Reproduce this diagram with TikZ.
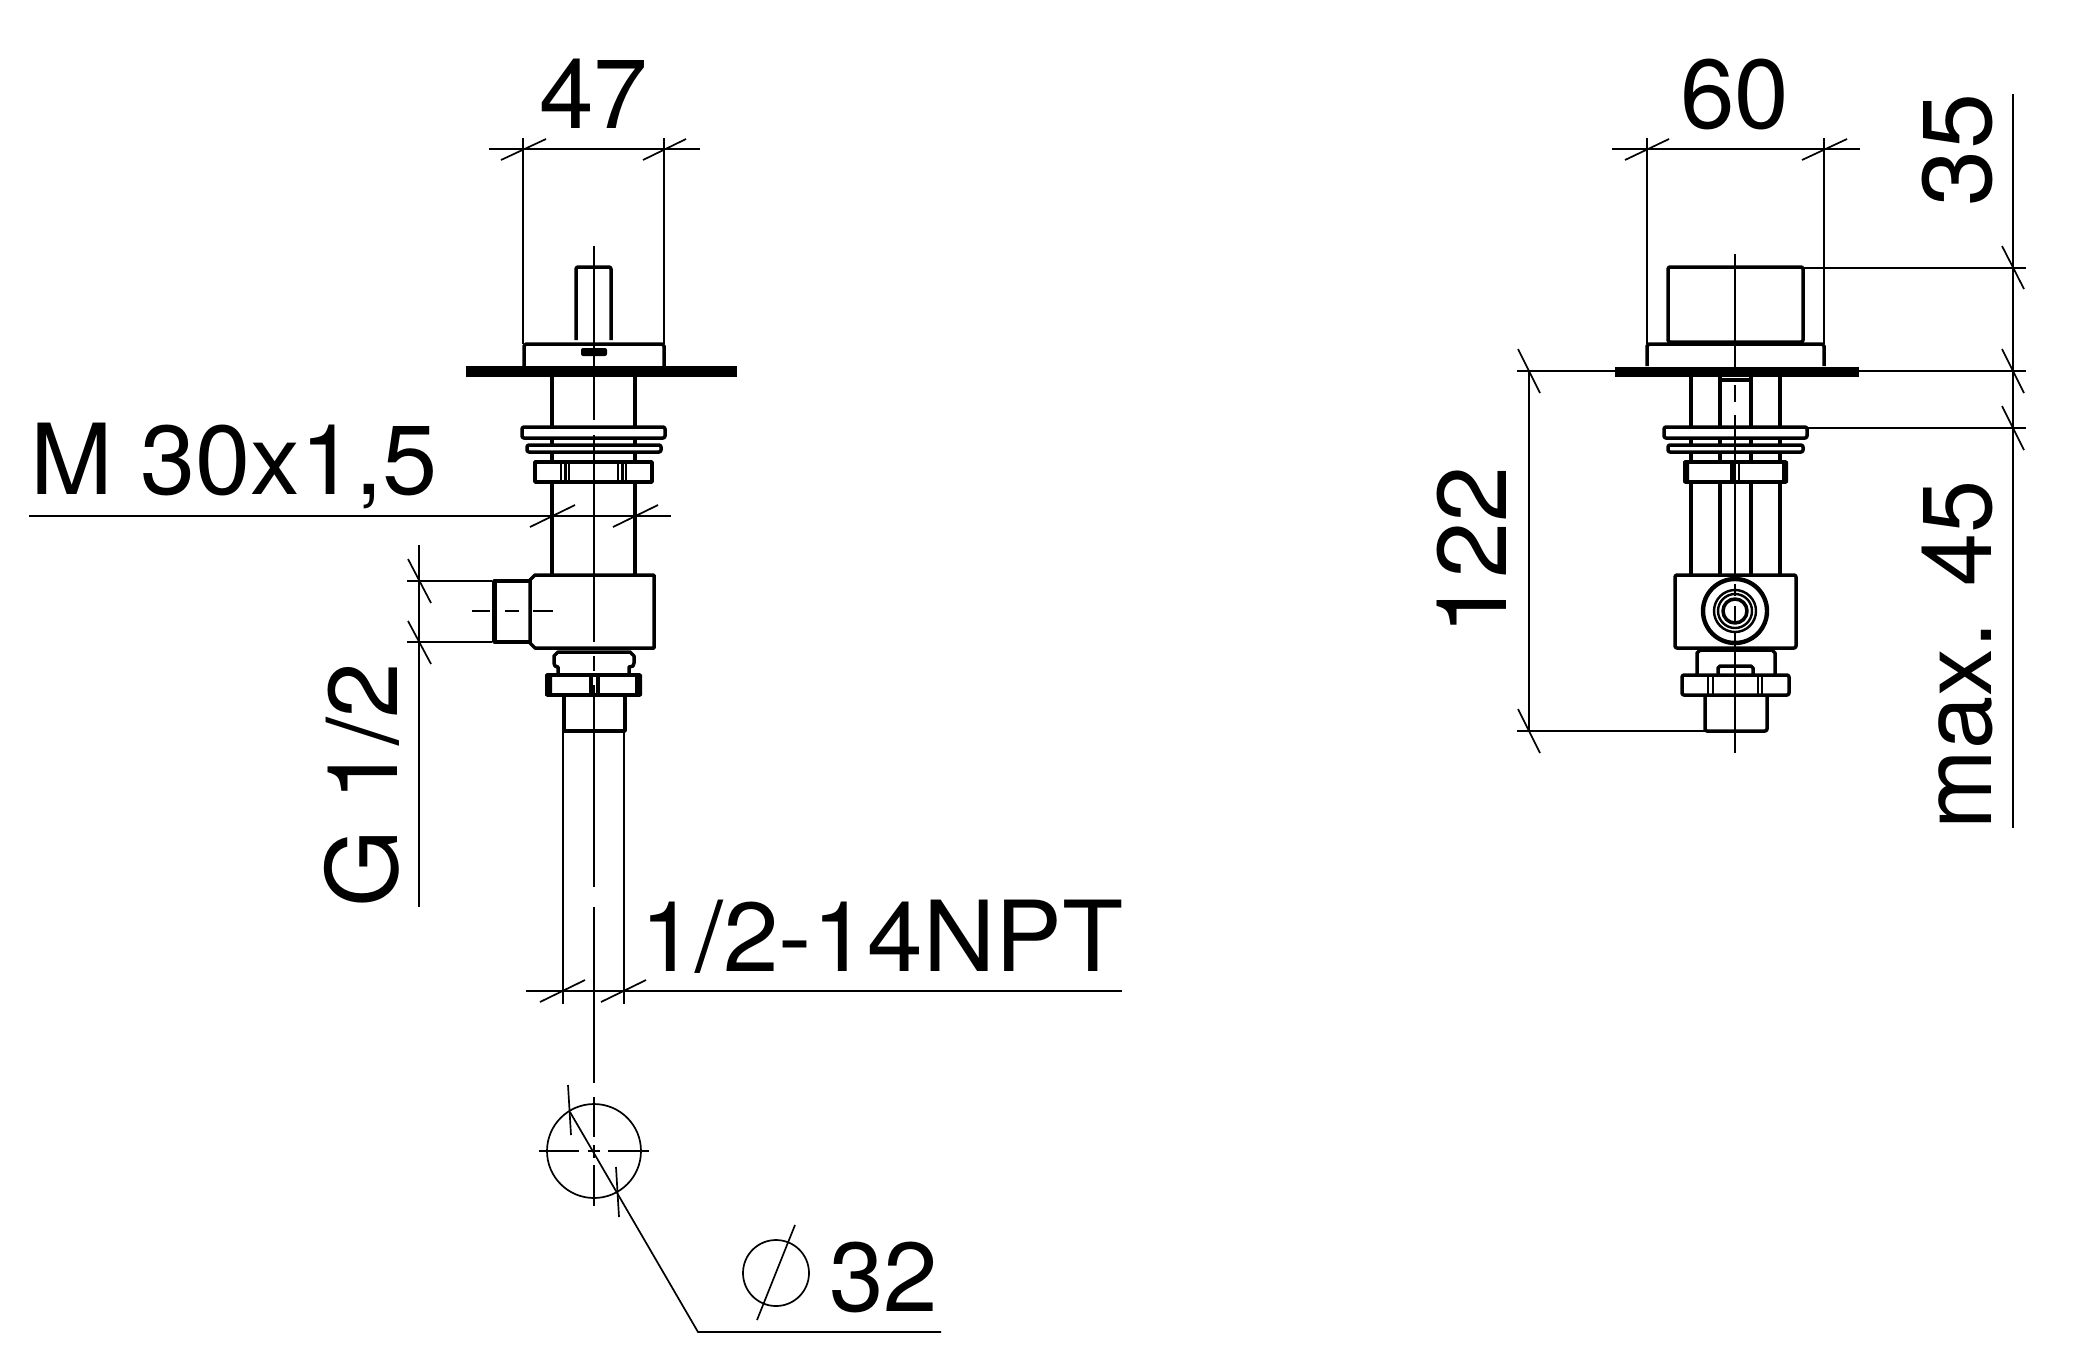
\documentclass[tikz,border=0pt]{standalone}
\usepackage{fontspec}
\setmainfont{TeX Gyre Heros}
\tikzset{part/.style={line width=1.75pt, line join=round},
	partw/.style={part, fill=white},
	thinline/.style={line width=.85pt},
	axisline/.style={line width=.85pt},
	dimtext/.style={inner sep=0pt, outer sep=0pt, anchor=base west, font=\fontsize{49}{49}\selectfont}}

\begin{document}
\begin{tikzpicture}[x=.5pt, y=-.5pt]
	\useasboundingbox (0,0) rectangle (2081,1361);
	% left view
	\draw [part] (552,377) -- (552,575);
	\draw [part] (635,377) -- (635,575);
	\draw [part, rounded corners=1pt] (576,340) -- (576,267) -- (611,267) -- (611,340);
	\draw [part] (524,366) -- (524,346) -- (526,344) -- (662,344) -- (664,346) -- (664,366);
	\fill [rounded corners=1pt] (581,348) rectangle (607,356);
	\fill [black] (466,366) rectangle (737,377);
	\draw [partw, rounded corners=1pt] (522,427) rectangle (665,438);
	\draw [partw, rounded corners=1pt] (527,445) rectangle (661,452);
	\draw [partw] (535,462) rectangle (652,482);
	\draw [part, line width=1.2pt] (561,462) -- (561,482);
	\draw [part, line width=1.2pt] (565.5,462) -- (565.5,482);
	\draw [part, line width=1.2pt] (569,462) -- (569,482);
	\draw [part, line width=1.2pt] (618,462) -- (618,482);
	\draw [part, line width=1.2pt] (622.5,462) -- (622.5,482);
	\draw [part, line width=1.2pt] (626,462) -- (626,482);
	\draw [part] (654,575) -- (654,648) -- (535,648) -- (530,643) -- (530,580) -- (535,575) -- cycle;
	\draw [part] (530,581) -- (494,581) -- (494,642) -- (530,642);
	\fill [black] (492,581) rectangle (497,642);
	\draw [part] (558,675) -- (558,667) -- (555,666) -- (554,663) -- (554,656) -- (558,652) -- (630,652) -- (634,656) -- (634,663) -- (633,666) -- (629,667) -- (629,675);
	\draw [partw] (547,675) rectangle (640,695);
	\fill [black, rounded corners=.5pt] (545,674) rectangle (552,696);
	\fill [black, rounded corners=.5pt] (635,674) rectangle (642,696);
	\draw [part, line width=2pt] (590.5,675) -- (590.5,695);
	\draw [part, line width=2pt] (598,675) -- (598,695);
	\draw [part] (564,695) rectangle (625,731);
	\draw [thinline, line width=1pt] (563,731) -- (563,1004);
	\draw [thinline, line width=1pt] (624,731) -- (624,1004);
	% axes of the left view
	\draw [axisline] (594,246) -- (594,420);
	\draw [axisline] (594,435) -- (594,642);
	\draw [axisline] (594,656) -- (594,671);
	\draw [axisline] (594,685) -- (594,887);
	\draw [axisline] (594,907) -- (594,1083);
	\draw [axisline] (594,1097) -- (594,1137);
	\draw [axisline] (594,1145) -- (594,1158);
	\draw [axisline] (594,1165) -- (594,1206);
	\draw [axisline] (472,611) -- (490,611);
	\draw [axisline] (505,611) -- (519,611);
	\draw [axisline] (533,611) -- (553,611);
	\draw [axisline] (539,1151) -- (579,1151);
	\draw [axisline] (588,1151) -- (600,1151);
	\draw [axisline] (608,1151) -- (649,1151);
	% dimensions of the left view
	\draw [thinline] (523,138) -- (523,344);
	\draw [thinline] (664,138) -- (664,344);
	\draw [thinline] (489,149) -- (700,149);
	\draw [thinline] (501,160) -- (546,139);
	\draw [thinline] (643,160) -- (686,139);
	\node [dimtext] (dimA) at (539,128) {47};
	\draw [thinline] (29,516) -- (671,516);
	\draw [thinline] (530,527) -- (575,505);
	\draw [thinline] (613,527) -- (658,505);
	\node [dimtext, xscale=1.012] (dimB) at (30,494) {M 30x1,5};
	\draw [thinline] (419,545) -- (419,907);
	\draw [thinline] (407,581) -- (492,581);
	\draw [thinline] (407,642) -- (492,642);
	\draw [thinline] (408,559) -- (431,603);
	\draw [thinline] (408,621) -- (431,664);
	\node [dimtext, rotate=90, xscale=1.02] (dimC) at (397,907) {G 1/2};
	\draw [thinline] (526,991) -- (1122,991);
	\draw [thinline] (540,1002) -- (585,980);
	\draw [thinline] (601,1002) -- (646,980);
	\node [dimtext, xscale=1.02] (dimD) at (640,971) {1/2-14NPT};
	\draw [thinline] (594,1151) circle [radius=47];
	\draw [thinline] (570,1112) -- (698,1332) -- (941,1332);
	\draw [thinline] (568,1085) -- (571,1135);
	\draw [thinline] (616,1167) -- (619,1217);
	\draw [thinline] (776,1273) circle [radius=33];
	\draw [thinline] (795,1225) -- (757,1320);
	\node [dimtext] (dimE) at (829,1311) {32};
	% right view
	\draw [part] (1691,377) -- (1691,575);
	\draw [part] (1720,377) -- (1720,575);
	\draw [part] (1751,377) -- (1751,575);
	\draw [part] (1780,377) -- (1780,575);
	\draw [part] (1720,380) -- (1751,380);
	\draw [part, rounded corners=1pt] (1668,267) rectangle (1803,342);
	\draw [part] (1647,366) -- (1647,346) -- (1649,344) -- (1822,344) -- (1824,346) -- (1824,366);
	\fill [black] (1615,367) rectangle (1859,377);
	\draw [partw, rounded corners=1pt] (1664,427) rectangle (1807,438);
	\draw [partw, rounded corners=1pt] (1668,445) rectangle (1803,452);
	\draw [partw] (1685,462) rectangle (1786,482);
	\fill [black, rounded corners=.5pt] (1683,461) rectangle (1689,483);
	\fill [black, rounded corners=.5pt] (1782,461) rectangle (1788,483);
	\draw [part, line width=2pt] (1732,462) -- (1732,482);
	\draw [part, line width=1.2pt] (1739,462) -- (1739,482);
	\draw [partw, rounded corners=1pt] (1675,575) rectangle (1796,648);
	\draw [part, line width=2.2pt] (1735,611) circle [radius=32];
	\draw [part, line width=1.2pt] (1735,611) circle [radius=21];
	\draw [part, line width=1.2pt] (1735,611) circle [radius=17];
	\draw [part] (1735,611) circle [radius=12];
	\draw [part] (1697,675) -- (1697,653) -- (1700,650) -- (1772,650) -- (1775,653) -- (1775,675);
	\draw [part] (1718,675) -- (1718,668) -- (1720,666) -- (1751,666) -- (1753,668) -- (1753,675);
	\draw [partw, rounded corners=1pt] (1682,675) rectangle (1789,695);
	\draw [part, line width=1.2pt] (1708,675) -- (1708,695);
	\draw [part, line width=1.2pt] (1713,675) -- (1713,695);
	\draw [part, line width=1.2pt] (1758,675) -- (1758,695);
	\draw [part, line width=1.2pt] (1762,675) -- (1762,695);
	\draw [part, rounded corners=1pt] (1705,695) -- (1705,731) -- (1767,731) -- (1767,695);
	% axes of the right view
	\draw [axisline] (1735,254) -- (1735,372);
	\draw [axisline] (1735,385) -- (1735,402);
	\draw [axisline] (1735,415) -- (1735,575);
	\draw [axisline] (1735,584) -- (1735,596);
	\draw [axisline] (1735,606) -- (1735,622);
	\draw [axisline] (1735,632) -- (1735,753);
	% dimensions of the right view
	\draw [thinline] (1647,138) -- (1647,344);
	\draw [thinline] (1824,138) -- (1824,344);
	\draw [thinline] (1612,149) -- (1860,149);
	\draw [thinline] (1625,160) -- (1669,139);
	\draw [thinline] (1802,160) -- (1847,139);
	\node [dimtext] (dimF) at (1680,128) {60};
	\draw [thinline] (2013,94) -- (2013,828);
	\draw [thinline] (1803,268) -- (2026,268);
	\draw [thinline] (1859,371) -- (2026,371);
	\draw [thinline] (1807,428) -- (2026,428);
	\draw [thinline] (2002,246) -- (2024,289);
	\draw [thinline] (2002,349) -- (2024,393);
	\draw [thinline] (2002,406) -- (2024,450);
	\node [dimtext, rotate=90, xscale=1.03] (dimG) at (1991,206) {35};
	\node [dimtext, rotate=90, xscale=.975] (dimH) at (1991,829) {max. 45};
	\draw [thinline] (1529,371) -- (1529,731);
	\draw [thinline] (1517,371) -- (1615,371);
	\draw [thinline] (1517,731) -- (1705,731);
	\draw [thinline] (1518,349) -- (1540,393);
	\draw [thinline] (1518,709) -- (1540,753);
	\node [dimtext, rotate=90, xscale=1.03] (dimJ) at (1506,635) {122};
\end{tikzpicture}
\end{document}
